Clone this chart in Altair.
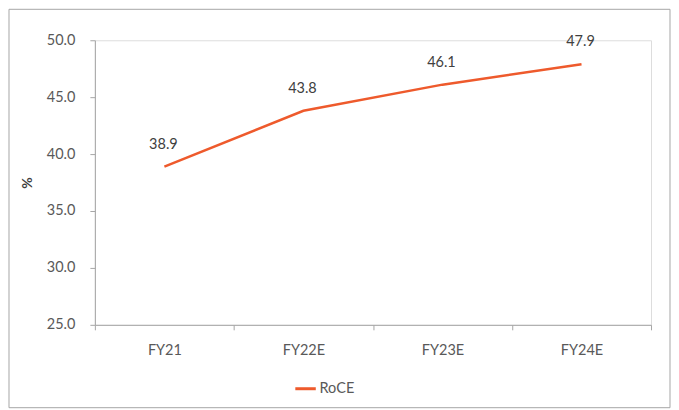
import altair as alt
import pandas as pd

years = ["FY21", "FY22E", "FY23E", "FY24E"]
roce = [38.9, 43.8, 46.1, 47.9]
series = ["RoCE"] * 4
y_ticks = [25, 30, 35, 40, 45, 50]

df = pd.DataFrame({"year": years, "value": roce, "series": series})
FONT = "Lato"
FS = 14.5

x_enc = alt.X("year:N", sort=years, bandPosition=0.5,
              scale=alt.Scale(type="band", paddingInner=0, paddingOuter=0),
              axis=alt.Axis(title=None, labelAngle=0, tickBand="extent", tickSize=5,
                            labelPadding=14, labelFontSize=FS, labelColor="#595959",
                            domainColor="#A6A6A6", tickColor="#A6A6A6", labelFont=FONT))
y_enc = alt.Y("value:Q", scale=alt.Scale(domain=[25, 50], nice=False, zero=False),
              axis=alt.Axis(title="%", values=y_ticks, format=".1f", grid=False, tickSize=5,
                            labelPadding=15, labelFontSize=FS, labelColor="#595959",
                            domainColor="#A6A6A6", tickColor="#A6A6A6", labelFont=FONT,
                            titleFont=FONT, titleFontSize=14, titleColor="#404040",
                            titlePadding=12, titleFontWeight="bold"))

line = alt.Chart(df).mark_line(strokeWidth=2.5, color="#EE5A2C").encode(
    x=x_enc, y=y_enc,
    color=alt.Color("series:N", scale=alt.Scale(range=["#EE5A2C"]),
                    legend=alt.Legend(title=None, orient="none", legendX=199, legendY=337,
                                      symbolType="stroke", symbolStrokeWidth=3, symbolSize=420,
                                      labelFontSize=FS, labelColor="#595959", labelFont=FONT,
                                      labelOffset=2))
)

labels = alt.Chart(df).mark_text(dy=-22, dx=-1, fontSize=FS, color="#404040", font=FONT).encode(
    x=alt.X("year:N", sort=years, bandPosition=0.5),
    y="value:Q",
    text=alt.Text("value:Q", format=".1f"),
)

border = alt.Chart(pd.DataFrame({"a": [0]})).mark_rect(
    fill=None, stroke="#A6A6A6", strokeWidth=1, clip=False
).encode(x=alt.value(-86), x2=alt.value(576), y=alt.value(-31), y2=alt.value(368))

chart = alt.layer(line, labels, border).properties(width=557, height=285).configure_view(
    strokeWidth=0
).configure(padding=0)

chart.save("out.html", embed_options={"renderer": "svg", "actions": False})
